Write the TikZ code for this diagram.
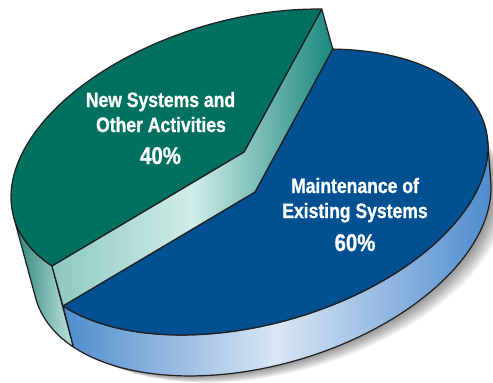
\documentclass[tikz,border=0pt]{standalone}
\usepackage{fontspec}
\newfontfamily\pielabel[FakeStretch=0.84, BoldFeatures={FakeBold=0.9}]{Liberation Sans}
\usetikzlibrary{calc}
\definecolor{greentop}{RGB}{0,112,96}
\definecolor{bluetop}{RGB}{0,80,146}
\definecolor{stripleft}{RGB}{140,200,192}
\definecolor{stripmid}{RGB}{208,237,233}
\definecolor{stripright}{RGB}{25,135,125}
\definecolor{sidedark}{RGB}{40,130,120}
\definecolor{sidelight}{RGB}{192,228,222}
\definecolor{bandblue}{RGB}{78,140,205}
\definecolor{bandlight}{RGB}{218,230,245}
\definecolor{rimgray}{RGB}{35,31,32}
\tikzset{
  rimline/.style = {draw=rimgray, line width=0.7pt, line join=round},
  lbl/.style = {text=white, anchor=base, font=\pielabel\bfseries\fontsize{11.9}{13}\selectfont},
  pct/.style = {lbl, font=\pielabel\bfseries\fontsize{13.8}{15}\selectfont},
  declare function={ex(\c,\u,\s)=\c+\u*cos(\s); ey(\c,\s)=\c-45*cos(\s)-135.7*sin(\s);}
}

\begin{document}
\begin{tikzpicture}[x=0.02cm, y=-0.02cm]
	\useasboundingbox (0,0) rectangle (493,382);
	
	\coordinate (c2) at (244,152);
	\coordinate (c1) at (255,192);
	\coordinate (g2a) at ({ex(244,233,70.5)},{ey(152,70.5)});
	\coordinate (g2b) at ({ex(244,233,214.5)},{ey(152,214.5)});
	\coordinate (b1a) at ({ex(255,233,70.5)},{ey(192,70.5)});
	\coordinate (b1b) at ({ex(255,233,214.5)},{ey(192,214.5)});
	
	% shadow
	\foreach \i in {1,...,14}
		\fill[black, opacity=0.035] plot[domain=0:360, samples=80] ({ex(262,229,\x)+1.2*\i},{ey(233,\x)+0.5*\i}) -- cycle;
	
	% sides
	\path[rimline, left color=bandblue, right color=bandblue, middle color=bandlight]
		plot[domain=214.5:362.4, samples=60] ({ex(255,233,\x)},{ey(192,\x)})
		-- plot[domain=362.4:214.5, samples=60] ({ex(262,229,\x)},{ey(233,\x)}) -- cycle;
	\path[rimline, left color=sidedark, right color=sidelight]
		plot[domain=188.5:214.5, samples=20] ({ex(244,233,\x)},{ey(152,\x)})
		-- plot[domain=214.5:188.5, samples=20] ({ex(262,229,\x)},{ey(233,\x)}) -- cycle;
	
	% tops
	\path[rimline, fill=bluetop] (c1) -- plot[domain=70.5:-145.5, samples=100] ({ex(255,233,\x)},{ey(192,\x)}) -- cycle;
	\path[rimline, left color=stripleft, right color=stripright, middle color=stripmid]
		(g2a) -- (c2) -- (g2b) -- (b1b) -- (c1) -- (b1a) -- cycle;
	\path[rimline, fill=greentop] (c2) -- plot[domain=70.5:214.5, samples=80] ({ex(244,233,\x)},{ey(152,\x)}) -- cycle;
	
	\node[lbl] (newsys) at (160.5,107) {New Systems and};
	\node[lbl] (other) at (161,132) {Other Activities};
	\node[pct] (greenpct) at (160.5,164) {40\%};
	\node[lbl] (maint) at (355,193) {Maintenance of};
	\node[lbl] (exist) at (355,218) {Existing Systems};
	\node[pct] (bluepct) at (355,251) {60\%};
\end{tikzpicture}
\end{document}
